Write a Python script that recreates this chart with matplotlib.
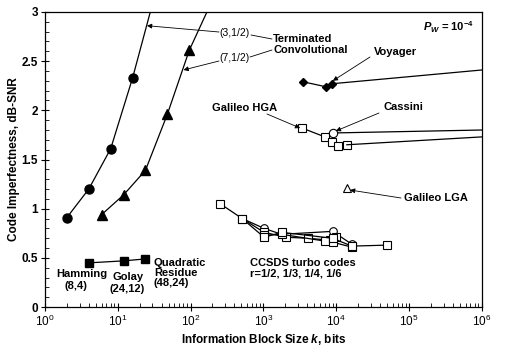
"""
Code imperfectness vs information block size (P_W = 1e-4).
"""

import matplotlib
matplotlib.use("Agg")
import matplotlib.pyplot as plt
from matplotlib.ticker import LogLocator, MultipleLocator, NullFormatter

plt.rcParams["font.family"] = ["Liberation Sans", "DejaVu Sans"]
plt.rcParams["mathtext.fontset"] = "custom"
plt.rcParams["mathtext.rm"] = "Liberation Sans:bold"
plt.rcParams["mathtext.it"] = "Liberation Sans:italic:bold"
plt.rcParams["mathtext.bf"] = "Liberation Sans:bold"

# terminated convolutional codes
conv3_k = [2, 4, 8, 16]
conv3_v = [0.91, 1.20, 1.61, 2.33]
conv3_tail_k = [16, 28]
conv3_tail_v = [2.33, 3.0]

conv7_k = [6, 12, 24, 48, 96]
conv7_v = [0.94, 1.14, 1.39, 1.96, 2.61]
conv7_tail_k = [96, 168]
conv7_tail_v = [2.61, 3.0]

# Hamming, Golay, Quadratic Residue
block_k = [4, 12, 24]
block_v = [0.45, 0.47, 0.49]

# concatenated systems
voyager_k = [3500, 7200, 8700]
voyager_v = [2.29, 2.24, 2.27]
voyager_tail_k = [8700, 1e6]
voyager_tail_v = [2.27, 2.41]

hga_k = [3400, 7000, 8700, 10500, 14000]
hga_v = [1.82, 1.73, 1.68, 1.64, 1.65]
hga_tail_k = [14000, 1e6]
hga_tail_v = [1.65, 1.73]

cassini_k = [9100]
cassini_v = [1.77]
cassini_tail_k = [7000, 9100, 1e6]
cassini_tail_v = [1.73, 1.77, 1.80]

lga_k = [14000]
lga_v = [1.21]

# CCSDS turbo codes
turbo_a_k = [256, 512, 1024, 1784, 8920, 16384, 49152]
turbo_a_v = [1.05, 0.90, 0.71, 0.76, 0.70, 0.62, 0.63]
turbo_b_k = [512, 1024, 1784, 8920, 16384]
turbo_b_v = [0.90, 0.80, 0.74, 0.77, 0.64]
turbo_c_k = [512, 1024, 2048, 4096, 8192, 10000]
turbo_c_v = [0.90, 0.76, 0.71, 0.70, 0.68, 0.71]
turbo_d_k = [1024, 1784, 7136, 8920, 16384]
turbo_d_v = [0.73, 0.74, 0.67, 0.66, 0.61]

x_ticks = [1, 10, 100, 1000, 10000, 100000, 1000000]
x_tick_labels = ["$\\mathregular{10^0}$", "$\\mathregular{10^1}$", "$\\mathregular{10^2}$",
                 "$\\mathregular{10^3}$", "$\\mathregular{10^4}$", "$\\mathregular{10^5}$",
                 "$\\mathregular{10^6}$"]
y_ticks = [0, 0.5, 1, 1.5, 2, 2.5, 3]
y_tick_labels = ["0", "0.5", "1", "1.5", "2", "2.5", "3"]

H = 351


def px(x, y):
    # figure pixel position measured from the top-left corner
    return (x, H - y)


fig = plt.figure(figsize=(5.05, 3.51), dpi=100)
ax = fig.add_axes([0.089, 0.125, 0.865, 0.841])

lw = 0.9
k = dict(color="black", lw=lw)

ax.plot(conv3_k, conv3_v, marker="o", ms=6.5, mfc="black", **k)
ax.plot(conv3_tail_k, conv3_tail_v, **k)
ax.plot(conv7_k, conv7_v, marker="^", ms=6.5, mfc="black", **k)
ax.plot(conv7_tail_k, conv7_tail_v, **k)
ax.plot(block_k, block_v, marker="s", ms=5.5, mfc="black", **k)

ax.plot(voyager_k, voyager_v, marker="D", ms=4.5, mfc="black", **k)
ax.plot(voyager_tail_k, voyager_tail_v, **k)
ax.plot(cassini_tail_k, cassini_tail_v, **k)
ax.plot(hga_k, hga_v, marker="s", ms=5.5, mfc="white", mew=0.8, **k)
ax.plot(hga_tail_k, hga_tail_v, **k)
ax.plot(cassini_k, cassini_v, marker="o", ms=6, mfc="white", mew=0.8, **k)
ax.plot(lga_k, lga_v, marker="^", ms=6, mfc="white", mew=0.8, ls="none", color="black")

ax.plot(turbo_b_k, turbo_b_v, marker="o", ms=5.5, mfc="white", mew=0.8, **k)
ax.plot(turbo_c_k, turbo_c_v, marker="s", ms=5.5, mfc="white", mew=0.8, **k)
ax.plot(turbo_d_k, turbo_d_v, marker="s", ms=5.5, mfc="white", mew=0.8, **k)
ax.plot(turbo_a_k, turbo_a_v, marker="s", ms=5.5, mfc="white", mew=0.8, **k)

ax.set_xscale("log")
ax.set_xlim(1, 1e6)
ax.set_ylim(0, 3)
ax.set_xticks(x_ticks)
ax.set_xticklabels(x_tick_labels, fontsize=8.5)
ax.set_yticks(y_ticks)
ax.set_yticklabels(y_tick_labels, fontsize=8.5, fontweight="bold")
ax.xaxis.set_minor_locator(LogLocator(base=10, subs=range(2, 10), numticks=20))
ax.xaxis.set_minor_formatter(NullFormatter())
ax.yaxis.set_minor_locator(MultipleLocator(0.1))
ax.tick_params(which="major", direction="inout", length=6, width=0.8, pad=2)
ax.tick_params(which="minor", direction="in", length=3, width=0.6)
for s in ax.spines.values():
    s.set_linewidth(0.9)

ax.set_xlabel("Information Block Size $k$, bits", fontsize=8.5, fontweight="bold", labelpad=2)
ax.set_ylabel("Code Imperfectness, dB-SNR", fontsize=8.5, fontweight="bold", labelpad=1)

fs = 8
bold = dict(fontsize=fs, fontweight="bold")
arrow = dict(arrowstyle="-|>", color="black", lw=0.6, mutation_scale=7, shrinkA=0, shrinkB=0)
plain = dict(arrowstyle="-", color="black", lw=0.6, shrinkA=0, shrinkB=0)
fp = "figure pixels"

# convolutional labels
ax.text(*px(235, 33), "(3,1/2)", transform=None, fontsize=7.5, ha="center", va="center")
ax.text(*px(234, 58), "(7,1/2)", transform=None, fontsize=7.5, ha="center", va="center")
ax.annotate("", xy=(25.2, 2.86), xytext=px(219, 32), textcoords=fp, arrowprops=arrow)
ax.annotate("", xy=(80, 2.41), xytext=px(219, 61), textcoords=fp, arrowprops=arrow)
ax.annotate("", xy=px(272, 39), xycoords=fp, xytext=px(251, 35), textcoords=fp, arrowprops=plain)
ax.annotate("", xy=px(272, 50), xycoords=fp, xytext=px(250, 57), textcoords=fp, arrowprops=plain)
ax.text(*px(273, 44.5), "Terminated\nConvolutional", transform=None, ha="left", va="center",
        linespacing=1.05, **bold)

ax.text(*px(374, 52), "Voyager", transform=None, ha="left", va="center", **bold)
ax.annotate("", xy=(9000, 2.30), xytext=px(370, 57), textcoords=fp, arrowprops=arrow)

ax.text(*px(245, 108), "Galileo HGA", transform=None, ha="center", va="center", **bold)
ax.annotate("", xy=(3200, 1.82), xytext=px(267, 114), textcoords=fp, arrowprops=arrow)

ax.text(*px(383, 107), "Cassini", transform=None, ha="left", va="center", **bold)
ax.annotate("", xy=(9900, 1.79), xytext=px(379, 113), textcoords=fp, arrowprops=arrow)

ax.text(*px(404, 198), "Galileo LGA", transform=None, ha="left", va="center", **bold)
ax.annotate("", xy=(15500, 1.19), xytext=px(401, 198), textcoords=fp, arrowprops=arrow)

ax.text(*px(448, 27), "$P_W$ = 10$^{-4}$", transform=None, ha="center", va="center", **bold)

ax.text(*px(250, 268), "CCSDS turbo codes\nr=1/2, 1/3, 1/4, 1/6", transform=None,
        ha="left", va="center", linespacing=1.05, **bold)

ax.text(*px(82, 274), "Hamming", transform=None, ha="center", va="center", **bold)
ax.text(*px(76, 286), "(8,4)", transform=None, ha="center", va="center", **bold)
ax.text(*px(128, 277), "Golay", transform=None, ha="center", va="center", **bold)
ax.text(*px(127, 289), "(24,12)", transform=None, ha="center", va="center", **bold)
ax.text(*px(154, 273.5), "Quadratic\nResidue\n(48,24)", transform=None, ha="left",
        va="center", linespacing=1.0, **bold)

fig.savefig("out.png", dpi=100)
